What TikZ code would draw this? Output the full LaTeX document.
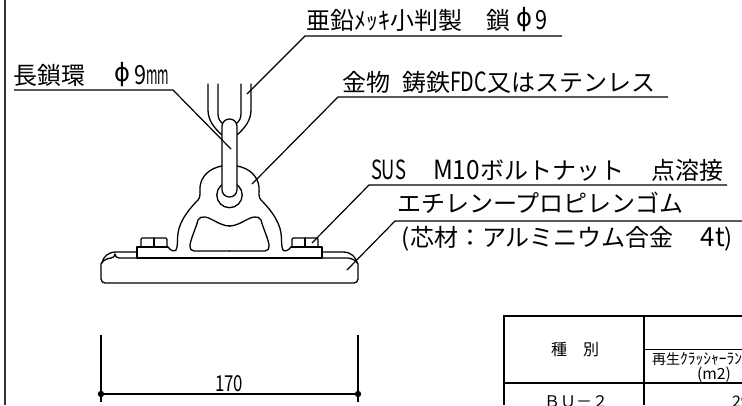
\documentclass[tikz,border=0pt]{standalone}
\usepackage{graphicx}
\usepackage{fontspec}
\setmainfont{Noto Sans CJK JP}
\newfontfamily\symfont{DejaVu Sans}
\newcommand{\hw}[2]{\resizebox{#1pt}{1.1\height}{#2}}
\newcommand{\gp}[1]{\hspace*{#1pt}}
\newcommand{\phisym}{\makebox[18pt][c]{\raisebox{2.5pt}{\resizebox{16pt}{1.05\height}{\symfont ϕ}}}}
\tikzset{
  x=1pt,y=-1pt,
  ink/.style={line width=1.3pt,line join=round,line cap=round,black},
  leader/.style={line width=1.2pt,line join=miter,black},
  big/.style={anchor=base west,inner sep=0pt,outer sep=0pt,font=\fontsize{24pt}{24pt}\selectfont},
  mid/.style={anchor=base west,inner sep=0pt,outer sep=0pt,font=\fontsize{16pt}{16pt}\selectfont},
  small/.style={anchor=base west,inner sep=0pt,outer sep=0pt,font=\fontsize{14pt}{14pt}\selectfont},
  dimtext/.style={anchor=base west,inner sep=0pt,outer sep=0pt,font=\fontsize{20pt}{20pt}\selectfont},
  tablethick/.style={line width=1.6pt,black},
  tablethin/.style={line width=1pt,black}
}
\newcommand{\halfmetal}{%
  \draw[ink,fill=white] (222,166) .. controls (210,168) and (201,176) .. (200,187)
     .. controls (199.5,193) and (201,197) .. (198,200)
     .. controls (192,206) and (180,219) .. (178,233)
     .. controls (177,240) and (178,247) .. (176,250)
     .. controls (175,251.5) and (171,251.5) .. (168,247);
  \draw[ink] (230,226) .. controls (220,226) and (212,218) .. (205,217)
     .. controls (202,216.5) and (199,217.5) .. (198,220)
     .. controls (196,228) and (191,238) .. (190,245)
     .. controls (190,249) and (191,251) .. (194,251) -- (229.5,251);
  \draw[ink] (137,258) -- (137,247) -- (168,247);
  \draw[ink] (137,252) -- (116,252) .. controls (108,252) and (103,257) .. (102,263);
}
\newcommand{\halfbolt}{%
  \draw[ink,rounded corners=1.2pt] (141,247) -- (141,238) -- (167,238) -- (167,247);
  \draw[ink] (154,238) -- (154,247) (141,247) -- (167,247);
}
\begin{document}
\begin{tikzpicture}
\useasboundingbox (0,0) rectangle (742,405);
\clip (0,0) rectangle (742,405);
% frame
\draw[line width=1.4pt,black!80] (5,0) -- (5,405);

% chain
\draw[ink] (208,84) -- (208,110) .. controls (208,120) and (214,128) .. (222,135);
\draw[ink] (218,84) -- (218,114) .. controls (218,119) and (220,121) .. (223,124);
\draw[ink] (241,84) -- (241,114) .. controls (241,119) and (239,121) .. (236,124);
\draw[ink] (251,84) -- (251,110) .. controls (251,120) and (245,128) .. (237,135);

% base plate
\draw[ink,rounded corners=4pt] (115,258) -- (344,258) .. controls (352,258) and (358,262) .. (358,268)
   -- (358,283) -- (101,283) -- (101,268) .. controls (101,262) and (107,258) .. (115,258) -- cycle;

% fitting, both halves
\halfmetal \halfbolt
\begin{scope}[xshift=459pt,xscale=-1]
  \halfmetal \halfbolt
\end{scope}
\draw[ink,line width=1.5pt] (137,258) -- (322,258);
\draw[ink] (229.5,195) circle (12.7);
\draw[ink,fill=white,rounded corners=7.4pt] (222,119) rectangle (237,197);

% texts
\node[big] (t1) at (306,29) {亜鉛ﾒｯｷ小判製\gp{25}鎖\gp{4}\phisym\gp{2}\hw{12}{9}};
\node[big] (t2) at (13,84) {長鎖環\gp{28}\phisym\gp{3}\hw{12}{9}\hw{23}{mm}};
\node[big] (t3) at (342,91) {金物\gp{12}鋳鉄\hw{37}{FDC}又はステンレス};
\node[big] (t4) at (371,179) {\hw{35}{SUS}\gp{27}\hw{47}{M10}ボルトナット\gp{28}点溶接};
\node[big] (t5) at (397,212) {エチレンープロピレンゴム};
\node[big] (t6) at (398,246) {\makebox[12pt][r]{(}芯材：アルミニウム合金\gp{27}\hw{24}{4t}\makebox[12pt][l]{)}};

% leaders
\coordinate (k1) at (305,36);  \coordinate (f1) at (562,36);  \coordinate (p1) at (247,94);
\coordinate (e2) at (14,90);   \coordinate (k2) at (173,90);  \coordinate (p2) at (231,149);
\coordinate (k3) at (338,97);  \coordinate (f3) at (668,97);  \coordinate (p3) at (252,184);
\coordinate (k4) at (369,185); \coordinate (f4) at (727,185); \coordinate (p4) at (312,243);
\coordinate (k5) at (395,221); \coordinate (f5) at (742,221); \coordinate (p5) at (347,270);
\draw[leader] (p1) -- (k1) -- (f1);
\draw[leader] (e2) -- (k2) -- (p2);
\draw[leader] (p3) -- (k3) -- (f3);
\draw[leader] (p4) -- (k4) -- (f4);
\draw[leader] (p5) -- (k5) -- (f5);

% dimension
\coordinate (d1) at (101,394); \coordinate (d2) at (358,394);
\draw[ink,line cap=butt] (101,335) -- (101,402);
\draw[ink,line cap=butt] (358,335) -- (358,402);
\draw[line width=1.1pt] (d1) -- (d2);
\fill (d1) circle (3.2);
\fill (d2) circle (3.2);
\node[dimtext] (dim) at (215,391) {\hw{28}{170}};

% table
\draw[tablethick] (742,316) -- (504,316) -- (504,405);
\draw[tablethick] (644,316) -- (644,405);
\draw[tablethick] (504,383) -- (742,383);
\draw[tablethin] (644,349) -- (742,349);
\node[mid] (h1) at (551,355) {種\gp{16}別};
\node[small] (h2) at (652,364) {再生\hw{62}{ｸﾗｯｼｬｰﾗﾝ}};
\node[small] (h3) at (697,379) {\hw{34}{(m2)}};
\node[mid] (r1) at (544,407) {ＢＵ－２};
\node[mid] (r2) at (732,407) {29};
\end{tikzpicture}
\end{document}
